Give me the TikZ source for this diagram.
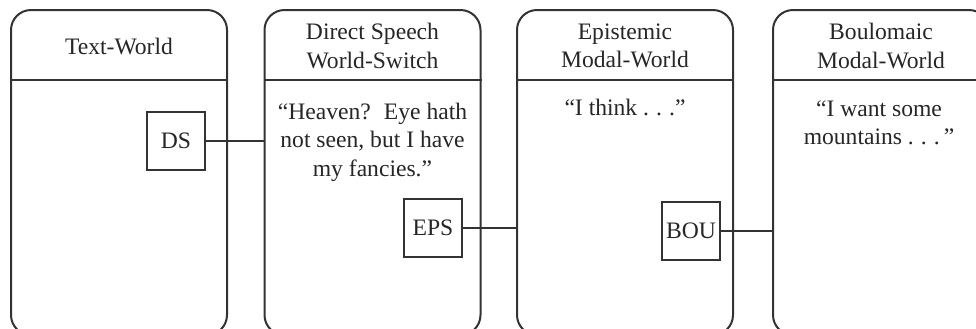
\documentclass[tikz,border=0pt]{standalone}
\usepackage{fontspec}
\setmainfont{Liberation Serif}
\newcommand{\spdots}{.\hspace{.3em}.\hspace{.3em}.}
\begin{document}
\begin{tikzpicture}[x=0.5pt,y=-0.5pt,
  every node/.style={text=black!85,font=\fontsize{11.8}{14.3}\selectfont},
  world/.style={draw=black!80,line width=1pt,rounded corners=10pt,minimum width=108pt,minimum height=162.5pt},
  tag/.style={draw=black!80,line width=0.8pt,minimum size=29pt,inner sep=1pt},
  link/.style={draw=black!80,line width=0.6pt},
  header/.style={draw=black!80,line width=1pt}]
\useasboundingbox (0,0) rectangle (976,328);
\clip (0,0) rectangle (976,328);
% the four worlds
\node[world] (tw) at (119,172.5) {};
\node[world] (dsw) at (372.5,172.5) {};
\node[world] (epw) at (625,172.5) {};
\node[world] (bow) at (881,172.5) {};
\draw[header] (tw.west |- 0,80) -- (tw.east |- 0,80);
\draw[header] (dsw.west |- 0,80) -- (dsw.east |- 0,80);
\draw[header] (epw.west |- 0,80) -- (epw.east |- 0,80);
\draw[header] (bow.west |- 0,80) -- (bow.east |- 0,80);
% titles
\node (twt) at (119,46) {Text-World};
\node[align=center] (dswt) at (372.5,46) {Direct Speech\\World-Switch};
\node[align=center] (epwt) at (625,46) {Epistemic\\Modal-World};
\node[align=center] (bowt) at (881,46) {Boulomaic\\Modal-World};
% contents
\node[align=center] (dsq) at (372.5,142) {“Heaven?\hspace{.55em}Eye hath\\not seen, but I have\\my fancies.”};
\node (epq) at (625,107) {“I think \spdots”};
\node[align=center] (boq) at (879,123) {“I want some\\mountains \spdots\,”};
% switch points
\node[tag] (ds) at (176,141) {DS};
\node[tag] (eps) at (433,228) {EPS};
\node[tag] (bou) at (691,231) {BOU};
\draw[link] (ds.east) -- (ds.east -| dsw.west);
\draw[link] (eps.east) -- (eps.east -| epw.west);
\draw[link] (bou.east) -- (bou.east -| bow.west);
\end{tikzpicture}
\end{document}
